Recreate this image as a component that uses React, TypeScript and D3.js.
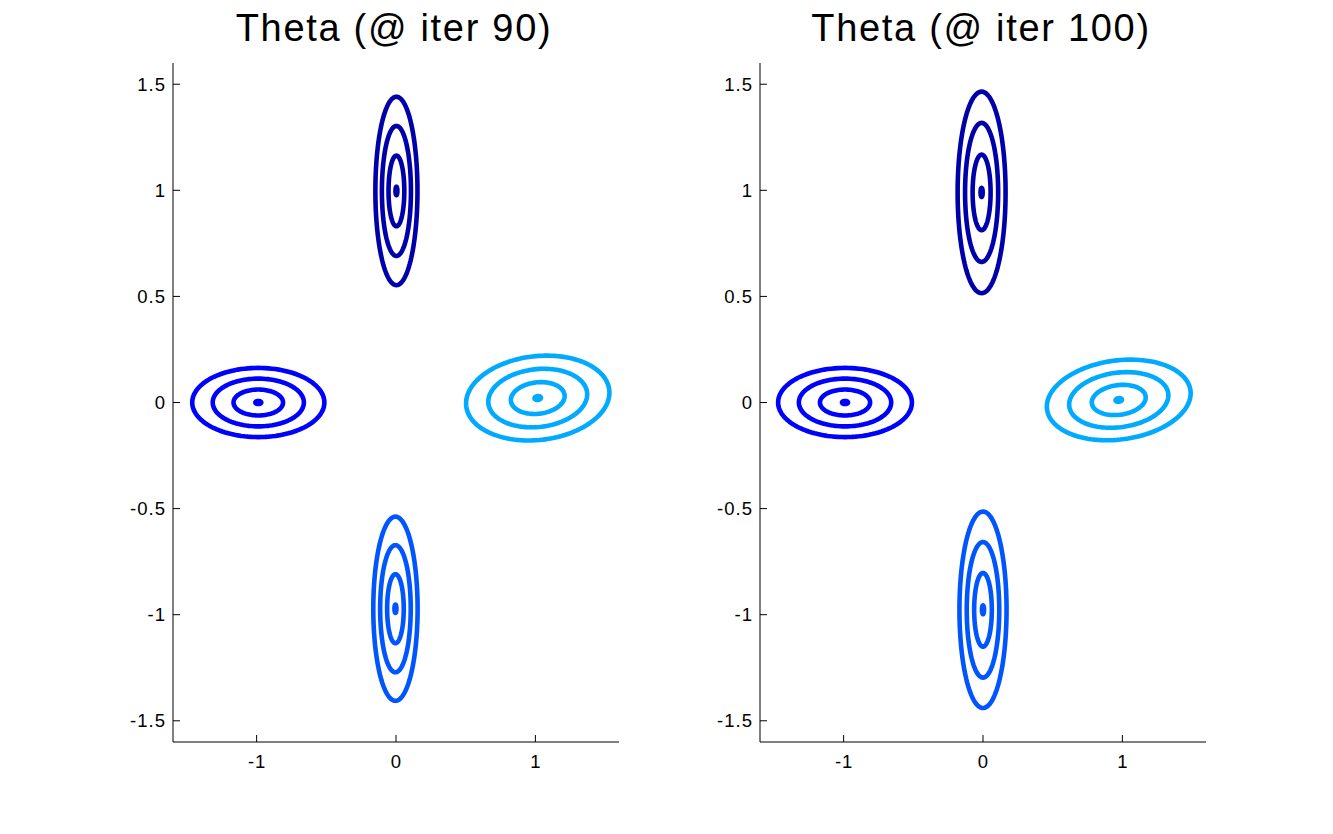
import React from "react";
import * as d3 from "d3";

// ---- data ----
const panelTitles = ["Theta (@ iter 90)", "Theta (@ iter 100)"];
const componentNames = ["top", "left", "right", "bottom"];
// colours per component: top, left, right, bottom
const colorByComponent = ["#0000AA", "#0000FF", "#00AAFF", "#0055FF"];

// iter 90: centers, outer semi-axes, tilt (deg, data space)
const iter90CenterX = [0.003, -0.988, 1.017, -0.004];
const iter90CenterY = [0.997, 0.0, 0.021, -0.972];
const iter90SemiX = [0.151, 0.474, 0.515, 0.159];
const iter90SemiY = [0.444, 0.163, 0.198, 0.434];
const iter90Tilt = [0, 0, 3.3, 0];

// iter 100
const iter100CenterX = [-0.01, -0.99, 0.974, 0.0];
const iter100CenterY = [0.99, 0.0, 0.012, -0.977];
const iter100SemiX = [0.172, 0.48, 0.517, 0.169];
const iter100SemiY = [0.475, 0.163, 0.187, 0.463];
const iter100Tilt = [0, 0, 4, 0];

// contour levels as fraction of the outer contour
const contourLevels = [0.045, 0.375, 0.69, 1.0];

const xTicks = [-1, 0, 1];
const yTicks = [-1.5, -1, -0.5, 0, 0.5, 1, 1.5];
const domain: [number, number] = [-1.6, 1.6];

const panelsData = [
  { cx: iter90CenterX, cy: iter90CenterY, sx: iter90SemiX, sy: iter90SemiY, tilt: iter90Tilt },
  { cx: iter100CenterX, cy: iter100CenterY, sx: iter100SemiX, sy: iter100SemiY, tilt: iter100Tilt },
];

const W = 1333;
const H = 834;
const panelLeft = [173, 760];
const panelWidth = 446;
const top = 63;
const bottom = 742;
const FONT = "'Liberation Sans', Arial, Helvetica, sans-serif";

function Panel({ idx }: { idx: number }) {
  const d = panelsData[idx];
  const x0 = panelLeft[idx];
  const x = d3.scaleLinear().domain(domain).range([x0, x0 + panelWidth]);
  const y = d3.scaleLinear().domain(domain).range([bottom, top]);
  const line = d3
    .line<[number, number]>()
    .x((p) => x(p[0]))
    .y((p) => y(p[1]))
    .curve(d3.curveLinearClosed);

  const N = 120;
  const ts = d3.range(N).map((i) => (i / N) * Math.PI * 2);

  const paths: React.ReactNode[] = [];
  componentNames.forEach((name, c) => {
    const th = (d.tilt[c] * Math.PI) / 180;
    contourLevels.forEach((r, k) => {
      const pts: [number, number][] = ts.map((t) => {
        const ex = r * d.sx[c] * Math.cos(t);
        const ey = r * d.sy[c] * Math.sin(t);
        return [
          d.cx[c] + ex * Math.cos(th) - ey * Math.sin(th),
          d.cy[c] + ex * Math.sin(th) + ey * Math.cos(th),
        ];
      });
      paths.push(
        <path
          key={name + k}
          d={line(pts) || ""}
          fill="none"
          stroke={colorByComponent[c]}
          strokeWidth={4.6}
          strokeLinejoin="round"
        />
      );
    });
  });

  const cxMid = x0 + panelWidth / 2 - 2;
  return (
    <g>
      <text
        x={cxMid}
        y={41}
        textAnchor="middle"
        fontFamily={FONT}
        fontSize={38}
        letterSpacing={1.7}
        fill="#000"
      >
        {panelTitles[idx]}
      </text>
      {paths}
      {/* axes */}
      <line x1={x0} x2={x0} y1={top} y2={bottom} stroke="#000" strokeWidth={1} />
      <line x1={x0} x2={x0 + panelWidth} y1={bottom} y2={bottom} stroke="#000" strokeWidth={1} />
      {yTicks.map((t) => (
        <g key={"y" + t}>
          <line x1={x0} x2={x0 + 7} y1={y(t)} y2={y(t)} stroke="#000" strokeWidth={1} />
          <text
            x={x0 - 7}
            y={y(t) + 6.5}
            textAnchor="end"
            fontFamily={FONT}
            fontSize={18.5}
            letterSpacing={1}
            fill="#000"
          >
            {String(t)}
          </text>
        </g>
      ))}
      {xTicks.map((t) => (
        <g key={"x" + t}>
          <line x1={x(t)} x2={x(t)} y1={bottom} y2={bottom - 7} stroke="#000" strokeWidth={1} />
          <text
            x={x(t) + 0.5}
            y={768}
            textAnchor="middle"
            fontFamily={FONT}
            fontSize={18.5}
            letterSpacing={1}
            fill="#000"
          >
            {String(t)}
          </text>
        </g>
      ))}
    </g>
  );
}

export default function App() {
  return (
    <svg
      width={W}
      height={H}
      style={{ position: "absolute", left: 0, top: 0, background: "#fff" }}
    >
      <rect x={0} y={0} width={W} height={H} fill="#fff" />
      <Panel idx={0} />
      <Panel idx={1} />
    </svg>
  );
}
